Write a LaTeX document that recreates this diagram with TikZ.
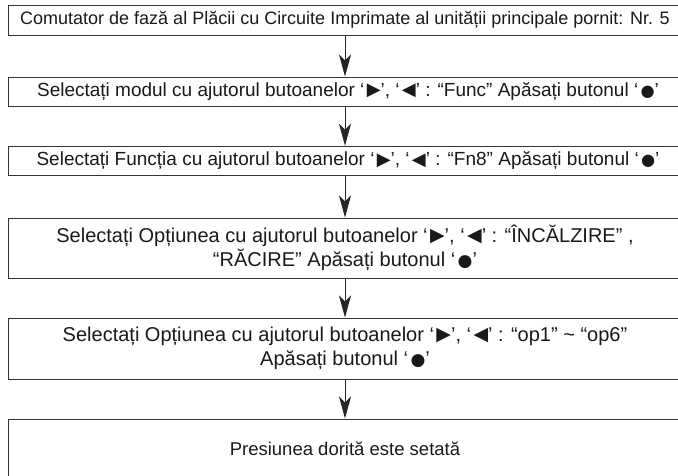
\documentclass[tikz,border=0pt]{standalone}
\usepackage{fontspec}
\setmainfont{Liberation Sans}
\newfontfamily\symf{DejaVu Sans}
\usetikzlibrary{arrows.meta}
\newcommand{\oq}{‘\hspace{0.12em}}
\newcommand{\rtri}{{\symf\raisebox{0.05em}{\scalebox{0.95}{▶}}}}
\newcommand{\ltri}{{\symf\raisebox{0.05em}{\scalebox{0.95}{◀}}}}
\newcommand{\bdot}{{\symf\scalebox{0.85}{●}}}
\begin{document}
\begin{tikzpicture}[x=1pt,y=-1pt,
  stepbox/.style={draw=black!80,line width=1pt,minimum width=674pt,inner sep=0pt,
    align=center,font=\fontsize{19}{23.5}\selectfont,text=black!90},
  bigtext/.style={font=\fontsize{20}{24}\selectfont},
  flow/.style={draw=black!85,line width=1pt,-{Stealth[length=22pt,width=12pt,inset=6pt]}}]
\useasboundingbox (0,0) rectangle (678,475);
\node[stepbox,minimum height=30pt,font=\fontsize{18}{22}\selectfont] (b1) at (345,20) {Comutator de fază al Plăcii cu Circuite Imprimate al unității principale pornit: Nr. 5};
\node[stepbox,minimum height=29pt] (b2) at (345,91.5) {\hspace{6pt}Selectați modul cu ajutorul butoanelor \oq\rtri’, \oq\ltri’ : “Func” Apăsați butonul \oq\bdot’};
\node[stepbox,minimum height=29.5pt] (b3) at (345,161) {\hspace{6pt}Selectați Funcția cu ajutorul butoanelor \oq\rtri’, \oq\ltri’ : “Fn8” Apăsați butonul \oq\bdot’};
\node[stepbox,bigtext,minimum height=60pt] (b4) at (345,248) {Selectați Opțiunea cu ajutorul butoanelor \oq\rtri’, \oq\ltri’ : “ÎNCĂLZIRE” ,\\ “RĂCIRE” Apăsați butonul \oq\bdot’};
\node[stepbox,bigtext,minimum height=61pt] (b5) at (345,348.5) {Selectați Opțiunea cu ajutorul butoanelor \oq\rtri’, \oq\ltri’ : “op1” \textasciitilde{} “op6”\\ Apăsați butonul \oq\bdot’};
\node[stepbox,minimum height=60pt,font=\fontsize{18.5}{22}\selectfont] (b6) at (345,449) {Presiunea dorită este setată};
\draw[flow] (b1) -- (b2);
\draw[flow] (b2) -- (b3);
\draw[flow] (b3) -- (b4);
\draw[flow] (b4) -- (b5);
\draw[flow] (b5) -- (b6);
\end{tikzpicture}
\end{document}
